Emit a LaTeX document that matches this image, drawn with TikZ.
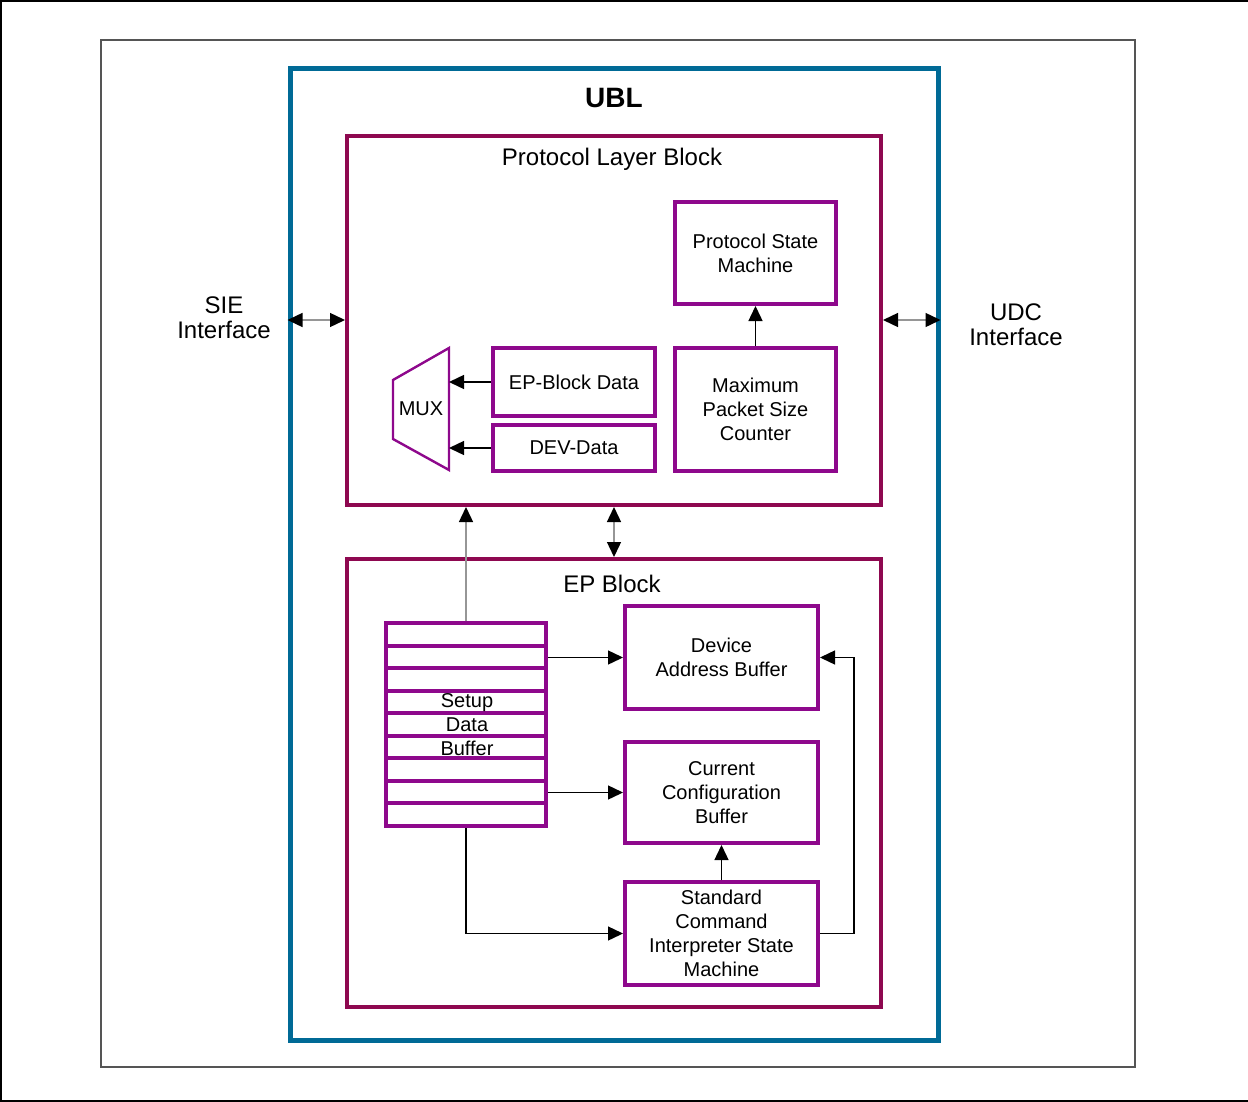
\documentclass[tikz,border=0pt]{standalone}
\usepackage{fontspec}
\setmainfont{Liberation Sans}
\usetikzlibrary{arrows.meta}

\definecolor{ublblue}{RGB}{0,106,150}
\definecolor{blockred}{RGB}{142,8,80}
\definecolor{boxpurple}{RGB}{142,8,140}
\definecolor{framegray}{RGB}{85,85,85}
\definecolor{wiregray}{RGB}{150,150,150}

\begin{document}
\begin{tikzpicture}[x=0.5pt,y=-0.5pt,
      myblock/.style={
         rectangle,
         draw=blockred,
         line width=2pt,
         inner sep=0pt},
      mybox/.style={
         rectangle,
         draw=boxpurple,
         line width=2pt,
         inner sep=0pt,
         align=center,
         font=\fontsize{10}{12}\selectfont},
      mytext/.style={
         align=center,
         font=\fontsize{12}{12.5}\selectfont},
      myarrow/.style={-{Triangle[length=7.5pt,width=7pt]},line width=0.7pt},
      mybiarrow/.style={{Triangle[length=7.5pt,width=7pt,color=black]}-{Triangle[length=7.5pt,width=7pt,color=black]},
         draw=wiregray,line width=0.7pt},
      ]
      \useasboundingbox (0,0) rectangle (1248,1102);
      \draw[line width=1pt] (1248,1) -- (1,1) -- (1,1101) -- (1248,1101);
      % frames
      \node[draw=framegray,line width=1pt,minimum width=517pt,minimum height=513.5pt] (page) at (618,553.5) {};
      \node[draw=ublblue,line width=2.5pt,minimum width=324pt,minimum height=485.5pt] (ublbox) at (614,554.5) {};
      \node[font=\fontsize{14}{14}\selectfont\bfseries] (ubl) at (614,98) {UBL};
      \node[mytext] (sie) at (224,318) {SIE\\Interface};
      \node[mytext] (udc) at (1016,325) {UDC\\Interface};
      % protocol layer block
      \node[myblock,minimum width=267pt,minimum height=184.5pt] (protocol) at (614,320.5) {};
      \node[mytext] (ptitle) at (612,159) {Protocol Layer Block};
      \node[mybox,minimum width=80.5pt,minimum height=51pt] (psm) at (755.5,253) {Protocol State\\Machine};
      \node[mybox,minimum width=80.5pt,minimum height=61.5pt] (maxpkt) at (755.5,409.5) {Maximum\\Packet Size\\Counter};
      \node[mybox,minimum width=81pt,minimum height=34pt] (epdata) at (574,382) {EP-Block Data};
      \node[mybox,minimum width=81pt,minimum height=23pt] (devdata) at (574,448) {DEV-Data};
      \draw[draw=boxpurple,line width=1.2pt] (393,380) -- (449,348) -- (449,470) -- (393,439) -- cycle;
      \coordinate (muxr) at (449,409);
      \node[font=\fontsize{10}{12}\selectfont] (mux) at (421,409) {MUX};
      % ep block
      \node[myblock,minimum width=267pt,minimum height=224pt] (epblock) at (614,783) {};
      \node[mytext] (etitle) at (612,584) {EP Block};
      \node[mybox,minimum width=96.5pt,minimum height=51.5pt] (device) at (721.5,657.5) {Device\\Address Buffer};
      \node[mybox,minimum width=96.5pt,minimum height=50.5pt] (current) at (721.5,792.5) {Current\\Configuration\\Buffer};
      \node[mybox,minimum width=96.5pt,minimum height=51.5pt] (stdcmd) at (721.5,933.5) {Standard\\Command\\Interpreter State\\Machine};
      \node[mybox,minimum width=80pt,minimum height=101.5pt] (setup) at (466,724.5) {};
      \foreach \k in {1,...,8}
         \draw[draw=boxpurple,line width=2pt] (386,623+\k*22.55) -- (546,623+\k*22.55);
      \node[font=\fontsize{10}{12}\selectfont,align=center] (setuplbl) at (467,725) {Setup\\Data\\Buffer};
      % connectors
      \draw[mybiarrow] (ublbox.west |- 0,320) -- (protocol.west |- 0,320);
      \draw[mybiarrow] (protocol.east |- 0,320) -- (ublbox.east |- 0,320);
      \draw[mybiarrow] (protocol.south) -- (epblock.north);
      \draw[myarrow,draw=wiregray,-{Triangle[length=7.5pt,width=7pt,color=black]}] (setup.north) -- (setup.north |- protocol.south);
      \draw[myarrow] (epdata.west) -- (epdata.west -| muxr);
      \draw[myarrow] (devdata.west) -- (devdata.west -| muxr);
      \draw[myarrow] (maxpkt.north) -- (psm.south);
      \draw[myarrow] (setup.east |- device.west) -- (device.west);
      \draw[myarrow] (setup.east |- current.west) -- (current.west);
      \draw[myarrow] (setup.south) |- (stdcmd.west);
      \draw[myarrow] (stdcmd.north) -- (current.south);
      \draw[myarrow] (stdcmd.east) -- ++(34,0) |- (device.east);
\end{tikzpicture}
\end{document}
